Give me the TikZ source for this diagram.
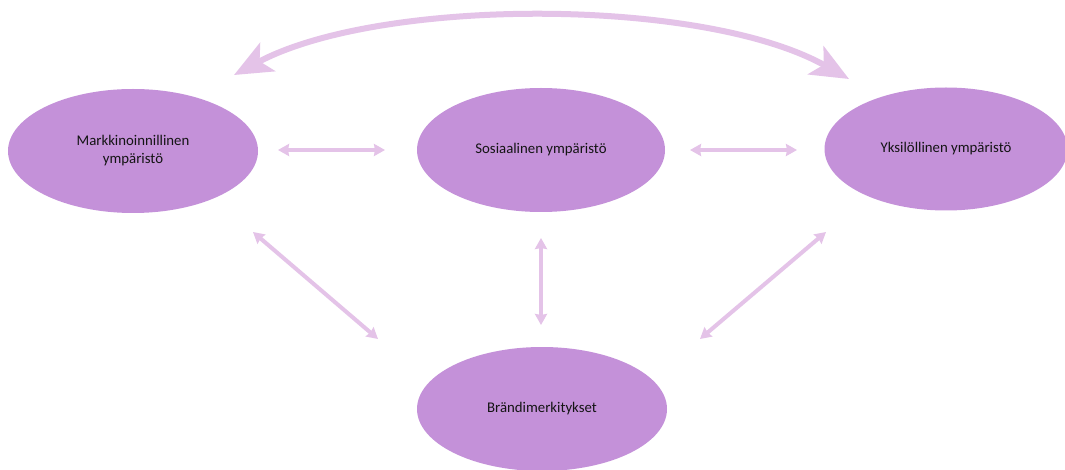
\documentclass[tikz,border=0pt]{standalone}
\usepackage{fontspec}
\setmainfont{Carlito}
\usetikzlibrary{shapes.geometric,arrows.meta}
\definecolor{ovalfill}{RGB}{196,145,217}
\definecolor{linkcol}{RGB}{228,195,232}
\definecolor{txt}{RGB}{20,20,20}
\begin{document}
\begin{tikzpicture}[x=1pt,y=-1pt,
  oval/.style={ellipse,fill=ovalfill,draw=none,inner sep=0pt,
    minimum width=250pt,minimum height=124pt,align=center,
    text=txt,font=\fontsize{14.8}{18}\selectfont},
  link/.style={draw=linkcol,line width=4pt,
    {Stealth[length=11pt,width=12pt,inset=1pt]}-{Stealth[length=11pt,width=12pt,inset=1pt]}},
  biglink/.style={draw=linkcol,line width=6pt,
    {Stealth[length=38pt,width=32pt,inset=9pt]}-{Stealth[length=38pt,width=32pt,inset=9pt]}}]
\useasboundingbox (0,0) rectangle (1065,470);
\fill[white] (0,0) rectangle (1065,470);

% the four environments
\node[oval] (mark) at (133,151) {Markkinoinnillinen\\ympäristö};
\node[oval,minimum width=248pt] (sos) at (541,150) {Sosiaalinen ympäristö};
\node[oval,minimum width=243pt,minimum height=123pt] (yks) at (946,149) {Yksilöllinen ympäristö};
\node[oval] (brand) at (542,409) {Brändimerkitykset};

% free ends of the connectors
\coordinate (mA) at (278,150); \coordinate (sA) at (385,150);
\coordinate (sB) at (690,150); \coordinate (yB) at (797,150);
\coordinate (mC) at (253,232); \coordinate (bC) at (378,339);
\coordinate (sD) at (541,238); \coordinate (bD) at (541,325);
\coordinate (yE) at (826,232); \coordinate (bE) at (700,339);
\coordinate (mTop) at (234,75); \coordinate (yTop) at (849,79);

\draw[link] (mA) -- (sA);
\draw[link] (sB) -- (yB);
\draw[link] (mC) -- (bC);
\draw[link] (sD) -- (bD);
\draw[link] (yE) -- (bE);
\draw[biglink] (mTop) .. controls (380,-3) and (703,-3) .. (yTop);
\end{tikzpicture}
\end{document}
